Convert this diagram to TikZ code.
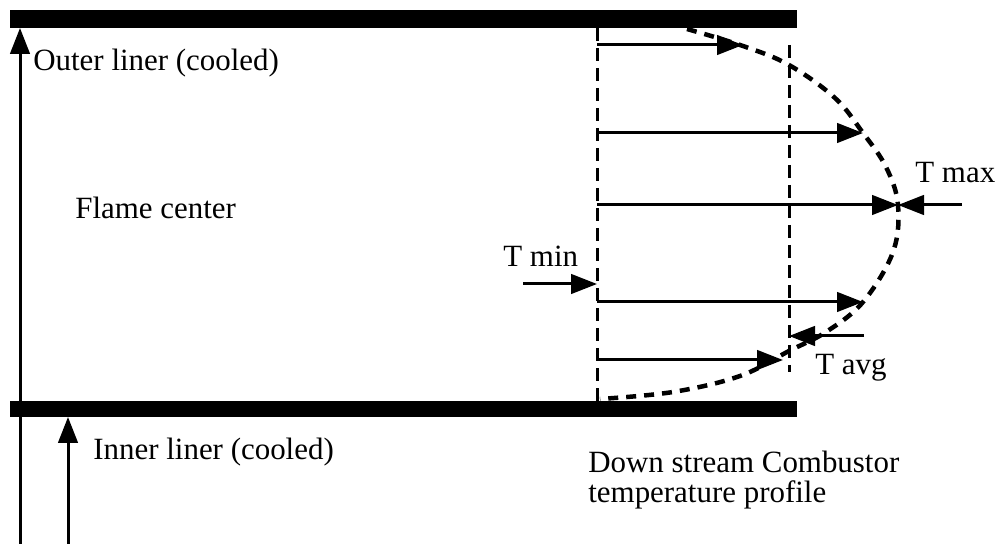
\documentclass[tikz,border=0pt]{standalone}
\usepackage{fontspec}
\setmainfont{Liberation Serif}
\usetikzlibrary{arrows.meta,positioning}
\tikzset{
    liner/.style={fill=black,draw=none},
    flow/.style={-{Triangle[length=5.2mm,width=3.9mm]},line width=0.6mm},
    guide/.style={line width=0.6mm,dash pattern=on 2.6mm off 1.4mm},
    profile/.style={line width=0.9mm,dash pattern=on 2mm off 1.6mm},
    lbl/.style={font=\fontsize{17.6}{17}\selectfont,inner sep=0pt,align=left},
}

\begin{document}
\begin{tikzpicture}[x=0.2mm,y=-0.2mm]
\useasboundingbox (0,0) rectangle (997,544);
% liners
\fill[liner] (10,10) rectangle (797,28);
\fill[liner] (10,401) rectangle (797,417);
\coordinate (outbot) at (20,28);
\coordinate (inbot)  at (68,417);
\coordinate (base1)  at (20,544);
\coordinate (base2)  at (68,544);
\draw[flow] (base1) -- (outbot);
\draw[flow] (base2) -- (inbot);

% labels
\node[lbl,anchor=base west] (outer) at (33,71)  {Outer liner (cooled)};
\node[lbl,anchor=base west] (flame) at (75,219) {Flame center};
\node[lbl,anchor=base west] (inner) at (93,460) {Inner liner (cooled)};
\node[lbl,anchor=north west] (down) at (588,451) {Down stream Combustor\\temperature profile};

% guide lines
\coordinate (la) at (597,28);  \coordinate (lb) at (597,401);
\coordinate (ra) at (789,45);  \coordinate (rb) at (789,372);
\draw[guide] (la) -- (lb);
\draw[guide] (ra) -- (rb);

% profile
\draw[profile] plot[smooth,tension=0.6] coordinates {(687,29) (743,46) (789,65) (835,98) (863,133) (886,167) (898,205) (893,252) (863,302) (826,332) (789,351) (740,376) (673,392) (600,399)};

% velocity arrows
\coordinate (s1) at (597,45);  \coordinate (e1) at (743,45);
\coordinate (s2) at (597,133); \coordinate (e2) at (863,133);
\coordinate (s3) at (597,205); \coordinate (e3) at (898,205);
\coordinate (s4) at (597,302); \coordinate (e4) at (863,302);
\coordinate (s5) at (597,360); \coordinate (e5) at (783,360);
\foreach \i in {1,...,5}
  \draw[flow] (s\i) -- (e\i);

% markers
\coordinate (maxin) at (962,205);
\coordinate (minin) at (523,284); \coordinate (minat) at (597,284);
\coordinate (avgin) at (864,336); \coordinate (avgat) at (789,336);
\draw[flow] (maxin) -- (e3);
\draw[flow] (minin) -- (minat);
\draw[flow] (avgin) -- (avgat);
\node[lbl,anchor=base west] (tmax) at (915,183) {T max};
\node[lbl,anchor=base west] (tmin) at (503,267) {T min};
\node[lbl,anchor=base west] (tavg) at (815,375) {T avg};
\end{tikzpicture}
\end{document}
